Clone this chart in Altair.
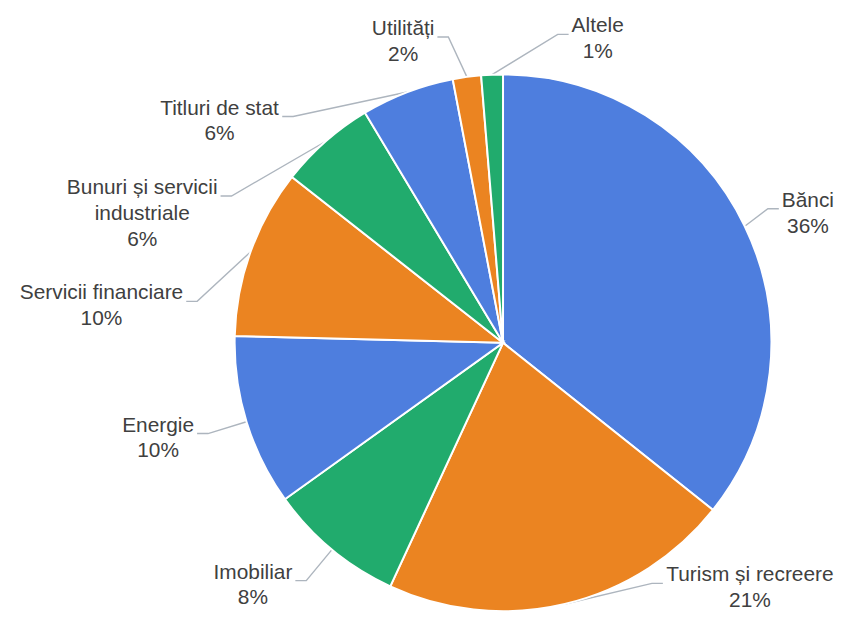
import math
import textwrap
import altair as alt
import pandas as pd

# ---- data ----
categories = ["Bănci", "Turism și recreere", "Imobiliar", "Energie", "Servicii financiare",
              "Bunuri și servicii industriale", "Titluri de stat", "Utilități", "Altele"]
shares = [35.7, 21.2, 8.2, 10.3, 10.2, 5.8, 5.6, 1.7, 1.3]
slice_colors = ["#4E7EDE", "#EB8421", "#21AB6D", "#4E7EDE", "#EB8421", "#21AB6D",
                "#4E7EDE", "#EB8421", "#21AB6D"]

# ---- layout constants ----
W, H = 834, 604          # chart size in px
CX, CY = 498, 335        # pie centre in chart px
R = 270                  # pie radius
RE = 1.15 * R            # radius of leader elbows
FONT = 21
LH = 26                  # label line height
PAD = 28                 # spacing between stacked labels
SEG = 11                 # horizontal leader segment
GAP = 3                  # gap between leader and text
XMIN = 55
LEFT, RIGHT = 4 - CX, 831 - CX
TOP_LINE, BOTTOM_LINE = 11 - CY, 595 - CY
FIRST_OFF = -8           # first text line centre relative to elbow

# approximate Arial / Liberation Sans advance widths (per 1000 em)
ADV = {"a": 556, "b": 556, "c": 500, "d": 556, "e": 556, "f": 278, "g": 556, "i": 222,
       "l": 222, "m": 833, "n": 556, "o": 556, "r": 333, "s": 500, "t": 278, "u": 556,
       "v": 500, "ă": 556, "ș": 500, "ț": 278, " ": 278, "%": 889, "A": 667, "B": 667,
       "E": 667, "I": 278, "S": 667, "T": 611, "U": 722}


def text_width(s):
    return sum(ADV.get(ch, 556) for ch in s) * FONT / 1000.0


total = sum(shares)
items = []
cum = 0.0
for i, (c, v) in enumerate(zip(categories, shares)):
    mid = (cum + v / 2) / total * 2 * math.pi
    cum += v
    lines = textwrap.wrap(c, 19) + [f"{round(v / total * 100)}%"]
    items.append(dict(i=i, cat=c, mid=mid, lines=lines,
                      w=max(text_width(l) for l in lines)))

# side assignment: labels near the top go to the less crowded side
for it in items:
    it["side"] = 1 if math.sin(it["mid"]) > 0 else -1
near_top = [it for it in items if abs(math.sin(it["mid"])) < 0.06 and math.cos(it["mid"]) > 0]
for it in near_top:
    others = [o for o in items if o not in near_top]
    n_right = sum(1 for o in others if o["side"] > 0)
    n_left = len(others) - n_right
    it["side"] = 1 if n_right < n_left else -1

# vertical de-overlap on each side
for side in (1, -1):
    group = sorted([it for it in items if it["side"] == side],
                   key=lambda it: -math.cos(it["mid"]))
    for k, it in enumerate(group):
        py = -RE * math.cos(it["mid"])
        py = max(py, TOP_LINE - FIRST_OFF)
        if k > 0:
            prev = group[k - 1]
            py = max(py, prev["py"] + LH * len(prev["lines"]) + PAD)
        it["py"] = py
    for k in range(len(group) - 1, -1, -1):
        it = group[k]
        n = len(it["lines"])
        bot = BOTTOM_LINE - FIRST_OFF - (n - 1) * LH
        it["py"] = min(it["py"], bot)
        if k < len(group) - 1:
            nxt = group[k + 1]
            it["py"] = min(it["py"], nxt["py"] - (LH * n + PAD))

lead_rows, text_rows = [], []
for it in items:
    side, py = it["side"], it["py"]
    ex = side * max(math.sqrt(max(RE ** 2 - py ** 2, 0.0)), XMIN)
    if side > 0:
        ex = min(ex, RIGHT - SEG - GAP - it["w"])
    else:
        ex = max(ex, LEFT + SEG + GAP + it["w"])
    ax, ay = R * math.sin(it["mid"]), -R * math.cos(it["mid"])
    for o, (x, y) in enumerate([(ax, ay), (ex, py), (ex + side * SEG, py)]):
        lead_rows.append(dict(cat=it["cat"], ord=o, x=x, y=y))
    tx = ex + side * (SEG + GAP + it["w"] / 2)
    for k, line in enumerate(it["lines"]):
        text_rows.append(dict(cat=it["cat"], line=line, x=tx, y=py + FIRST_OFF + k * LH))

slices = pd.DataFrame({"cat": categories, "share": shares, "idx": list(range(len(categories)))})
leaders = pd.DataFrame(lead_rows)
texts = pd.DataFrame(text_rows)

xs = alt.Scale(domain=[-CX, W - CX], range=[0, W])
ys = alt.Scale(domain=[-CY, H - CY], range=[0, H])

pie = alt.Chart(slices).mark_arc(radius=R, stroke="white", strokeWidth=2).encode(
    theta=alt.Theta("share:Q", stack=True),
    color=alt.Color("cat:N", scale=alt.Scale(domain=categories, range=slice_colors), legend=None),
    order=alt.Order("idx:Q"),
    x=alt.value(CX),
    y=alt.value(CY),
)

lead = alt.Chart(leaders).mark_line(color="#ADB5BE", strokeWidth=1.4).encode(
    x=alt.X("x:Q", scale=xs, axis=None),
    y=alt.Y("y:Q", scale=ys, axis=None),
    detail="cat:N",
    order="ord:Q",
)

txt = alt.Chart(texts).mark_text(font="Liberation Sans", fontSize=FONT, color="#404040",
                                 align="center", baseline="middle").encode(
    x=alt.X("x:Q", scale=xs, axis=None),
    y=alt.Y("y:Q", scale=ys, axis=None),
    text="line:N",
)

chart = alt.layer(lead, pie, txt).properties(
    width=W, height=H, padding=0, autosize="none"
).configure_view(stroke=None)

chart.save("out.html", embed_options={"renderer": "svg", "actions": False})
